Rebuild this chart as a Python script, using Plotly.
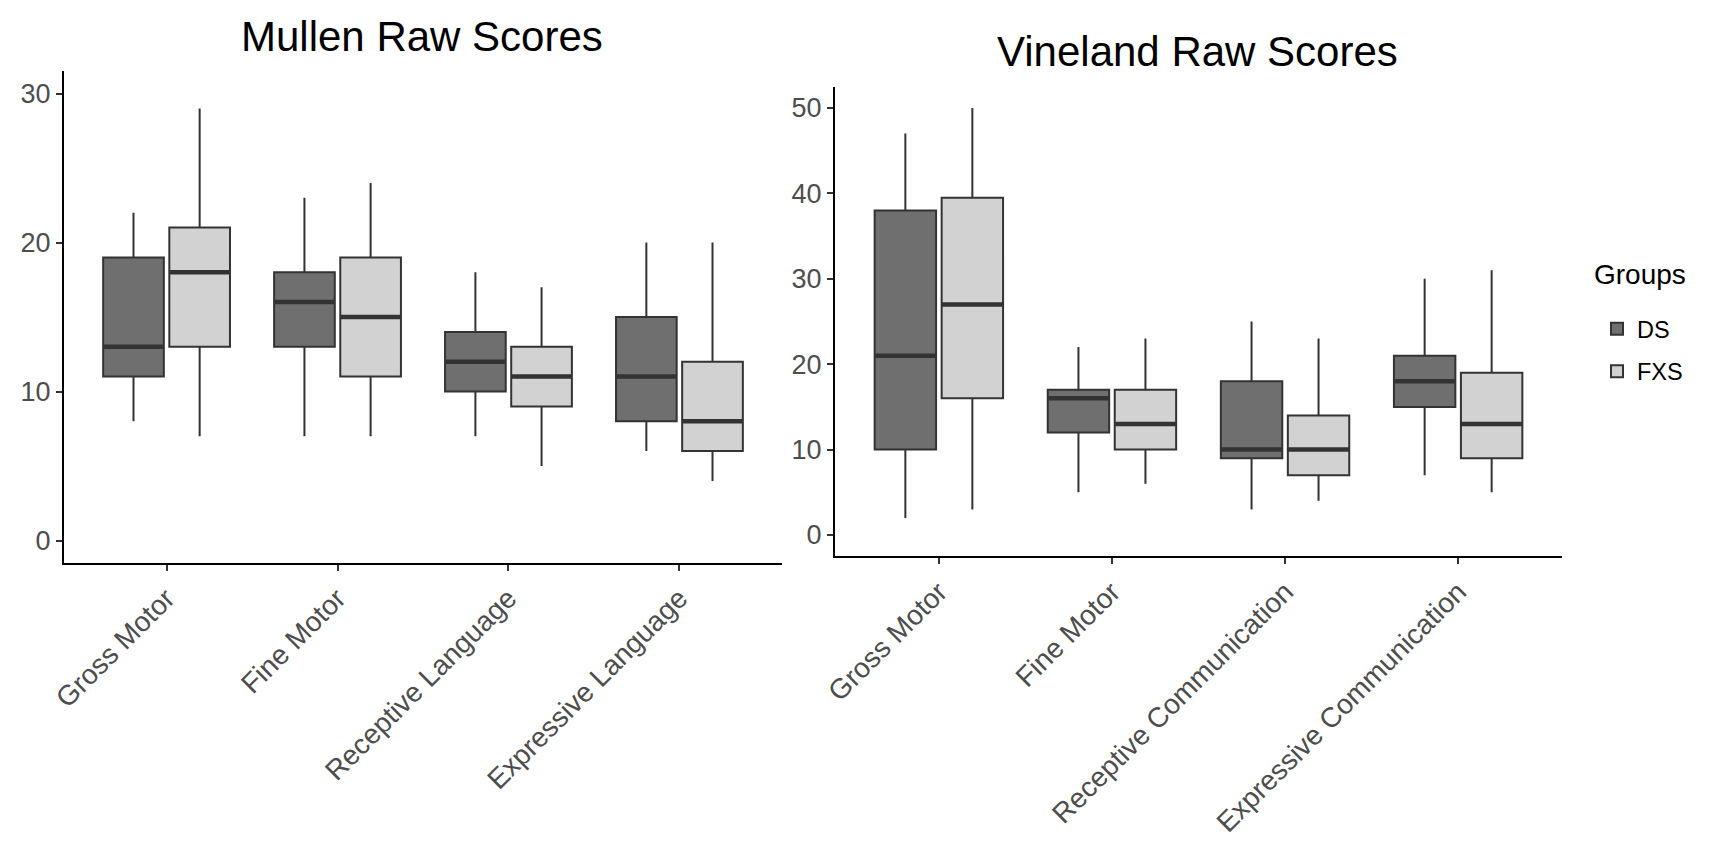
import plotly.graph_objects as go

# ---------------- data ----------------
mullen_cats = ["Gross Motor", "Fine Motor", "Receptive Language", "Expressive Language"]
vine_cats = ["Gross Motor", "Fine Motor", "Receptive Communication", "Expressive Communication"]
groups = ["DS", "FXS"]

mullen_ds_min = [8, 7, 7, 6]
mullen_ds_q1 = [11, 13, 10, 8]
mullen_ds_med = [13, 16, 12, 11]
mullen_ds_q3 = [19, 18, 14, 15]
mullen_ds_max = [22, 23, 18, 20]

mullen_fxs_min = [7, 7, 5, 4]
mullen_fxs_q1 = [13, 11, 9, 6]
mullen_fxs_med = [18, 15, 11, 8]
mullen_fxs_q3 = [21, 19, 13, 12]
mullen_fxs_max = [29, 24, 17, 20]

vine_ds_min = [2, 5, 3, 7]
vine_ds_q1 = [10, 12, 9, 15]
vine_ds_med = [21, 16, 10, 18]
vine_ds_q3 = [38, 17, 18, 21]
vine_ds_max = [47, 22, 25, 30]

vine_fxs_min = [3, 6, 4, 5]
vine_fxs_q1 = [16, 10, 7, 9]
vine_fxs_med = [27, 13, 10, 13]
vine_fxs_q3 = [39.5, 17, 14, 19]
vine_fxs_max = [50, 23, 23, 31]

fills = {"DS": "#6f6f6f", "FXS": "#d2d2d2"}
LINE = "#333333"
FONT = "Liberation Sans, Arial, sans-serif"

fig = go.Figure()


def add_panel(cats, stats, xa, ya, showlegend):
    for g in groups:
        mn, q1, md, q3, mx = stats[g]
        fig.add_trace(go.Box(
            x=cats, q1=q1, median=md, q3=q3, lowerfence=mn, upperfence=mx,
            name=g, legendgroup=g, offsetgroup=g, showlegend=showlegend,
            fillcolor=fills[g], line=dict(color=LINE, width=2),
            whiskerwidth=0, boxpoints=False, xaxis=xa, yaxis=ya,
            hoverinfo="skip",
        ))
        # thicker median line overlay
        fig.add_trace(go.Box(
            x=cats, q1=md, median=md, q3=md, lowerfence=md, upperfence=md,
            name=g, legendgroup=g, offsetgroup=g, showlegend=False,
            fillcolor="rgba(0,0,0,0)", line=dict(color=LINE, width=4.5),
            whiskerwidth=0, boxpoints=False, xaxis=xa, yaxis=ya,
            hoverinfo="skip",
        ))


add_panel(mullen_cats, {
    "DS": (mullen_ds_min, mullen_ds_q1, mullen_ds_med, mullen_ds_q3, mullen_ds_max),
    "FXS": (mullen_fxs_min, mullen_fxs_q1, mullen_fxs_med, mullen_fxs_q3, mullen_fxs_max),
}, "x", "y", True)

add_panel(vine_cats, {
    "DS": (vine_ds_min, vine_ds_q1, vine_ds_med, vine_ds_q3, vine_ds_max),
    "FXS": (vine_fxs_min, vine_fxs_q1, vine_fxs_med, vine_fxs_q3, vine_fxs_max),
}, "x2", "y2", False)

xcommon = dict(
    type="category", range=[-0.6, 3.6], showline=True, linecolor="black", linewidth=2,
    ticks="outside", ticklen=6, tickwidth=1.5, tickcolor=LINE, tickangle=-45,
    tickfont=dict(family=FONT, size=28, color="#4d4d4d"), showgrid=False,
    zeroline=False, automargin=False, fixedrange=True,
)
ycommon = dict(
    showline=True, linecolor="black", linewidth=2, ticks="outside", ticklen=6,
    tickwidth=1.5, tickcolor=LINE, tickfont=dict(family=FONT, size=27, color="#4d4d4d"),
    showgrid=False, zeroline=False, automargin=False, dtick=10, fixedrange=True,
)

# page body has an 8px default margin; figure is sized to fit the window
W, H = 1717, 833

fig.update_layout(
    width=W, height=H,
    margin=dict(l=0, r=0, t=0, b=0),
    paper_bgcolor="white", plot_bgcolor="white",
    boxmode="group", boxgap=0.226, boxgroupgap=0.083,
    font=dict(family=FONT),
    xaxis=dict(xcommon, domain=[56 / W, 774 / W], anchor="y"),
    yaxis=dict(ycommon, domain=[1 - 554.85 / H, 1 - 63.15 / H], range=[-1.5, 31.5], anchor="x"),
    xaxis2=dict(xcommon, domain=[827 / W, 1554 / W], anchor="y2"),
    yaxis2=dict(ycommon, domain=[1 - 548.35 / H, 1 - 78.65 / H], range=[-2.5, 52.5], anchor="x2"),
    legend=dict(
        font=dict(family=FONT, size=23.5, color="black"),
        x=1589 / W, y=1 - 299 / H, xanchor="left", yanchor="top",
        bgcolor="rgba(0,0,0,0)", tracegroupgap=9,
    ),
    annotations=[
        dict(text="Mullen Raw Scores", x=413.5 / W, y=1 - 28.5 / H, xref="paper", yref="paper",
             xanchor="center", yanchor="middle", showarrow=False,
             font=dict(family=FONT, size=42, color="black")),
        dict(text="Vineland Raw Scores", x=1189 / W, y=1 - 44 / H, xref="paper", yref="paper",
             xanchor="center", yanchor="middle", showarrow=False,
             font=dict(family=FONT, size=42, color="black")),
        dict(text="Groups", x=1583.5 / W, y=1 - 266 / H, xref="paper", yref="paper",
             xanchor="left", yanchor="middle", showarrow=False,
             font=dict(family=FONT, size=28, color="black")),
    ],
)

fig.write_html("out.html", config={"displayModeBar": False})
